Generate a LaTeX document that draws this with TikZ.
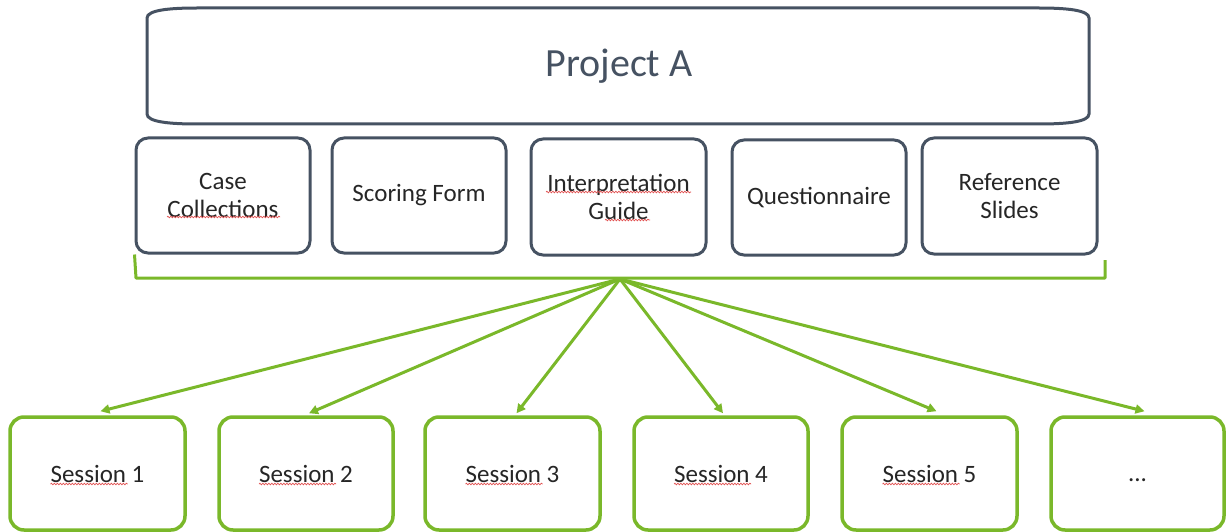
\documentclass[tikz,border=0pt]{standalone}
\usepackage{fontspec}
\setmainfont{Carlito}
\usetikzlibrary{arrows.meta,calc,decorations.pathmorphing}
\definecolor{dk}{RGB}{70,82,98}
\definecolor{gr}{RGB}{122,184,42}
\definecolor{tx}{RGB}{38,38,38}
\definecolor{sp}{RGB}{225,80,80}
\begin{document}
\begin{tikzpicture}[x=1pt,y=-1pt,
  topbox/.style={draw=dk,line width=3pt,rounded corners=12pt,minimum width=174pt,minimum height=115pt,align=center,text=tx,font=\fontsize{25}{28}\selectfont,inner sep=0pt},
  sesbox/.style={draw=gr,line width=3.5pt,rounded corners=14pt,minimum width=174pt,minimum height=113pt,align=center,text=tx,font=\fontsize{25}{28}\selectfont,inner sep=0pt},
  link/.style={draw=gr,line width=3pt,-{Triangle[length=9pt,width=9pt]}},
  bracket/.style={draw=gr,line width=3pt},
  squig/.style={draw=sp,line width=0.7pt,decorate,decoration={snake,amplitude=0.8pt,segment length=3pt}}]
\useasboundingbox (0,0) rectangle (1226,532);
% Project A
\draw[dk,line width=3pt] (147,18) -- (147,114) .. controls (147,122) and (170,124) .. (197,124) -- (1039,124) .. controls (1066,124) and (1089,122) .. (1089,114) -- (1089,18) .. controls (1089,10) and (1066,8) .. (1039,8) -- (197,8) .. controls (170,8) and (147,10) .. (147,18) -- cycle;
\node[text=dk,font=\fontsize{40}{44}\selectfont,inner sep=0pt] (pa) at (619,66) {Project A};
% components
\node[topbox] (c1) at (223,195.5) {Case\\Collections};
\node[topbox] (c2) at (419,195.5) {Scoring Form};
\node[topbox,minimum width=175pt,minimum height=116pt] (c3) at (618.5,197) {Interpretation\\Guide};
\node[topbox] (c4) at (819,197.5) {Questionnaire};
\node[topbox,minimum width=175pt,minimum height=116pt] (c5) at (1009.5,196) {Reference\\Slides};
% spelling marks
\draw[squig] ($(c1)+(-56,21.5)$) -- ($(c1)+(57,21.5)$);
\draw[squig] ($(c3)+(-72.5,-5)$) -- ($(c3)+(72.5,-5)$);
\draw[squig] ($(c3)+(-13.5,23)$) -- ($(c3)+(31.5,23)$);
% bracket
\coordinate (bl) at (136,278);
\coordinate (br) at (1105,278);
\coordinate (brt) at (1105,260);
\coordinate (hub) at (620,279);
\draw[bracket,line join=round] (c1.south west) -- (bl) -- (br) -- (brt);
% sessions
\node[sesbox,minimum width=175pt] (s1) at (97.5,473.5) {Session 1};
\node[sesbox] (s2) at (306,473.5) {Session 2};
\node[sesbox,minimum width=175pt] (s3) at (512.5,473.5) {Session 3};
\node[sesbox] (s4) at (721,473.5) {Session 4};
\node[sesbox,minimum width=175pt] (s5) at (929.5,473.5) {Session 5};
\node[sesbox,minimum width=173pt] (s6) at (1137.5,473.5) {\vphantom{S}...};
\foreach \s in {s1,s2,s3,s4,s5}{
  \draw[squig] ($(\s)+(-47,10.5)$) -- ($(\s)+(30,10.5)$);
}
% links
\draw[link] (hub) -- ($(s1.north)+(3,-4)$);
\draw[link] (hub) -- ($(s2.north)+(3,-2)$);
\draw[link] (hub) -- ($(s3.north)+(4,-2)$);
\draw[link] (hub) -- ($(s4.north)+(2,-2)$);
\draw[link] (hub) -- ($(s5.north)+(7,-4)$);
\draw[link] (hub) -- ($(s6.north)+(7,-4)$);
\end{tikzpicture}
\end{document}
